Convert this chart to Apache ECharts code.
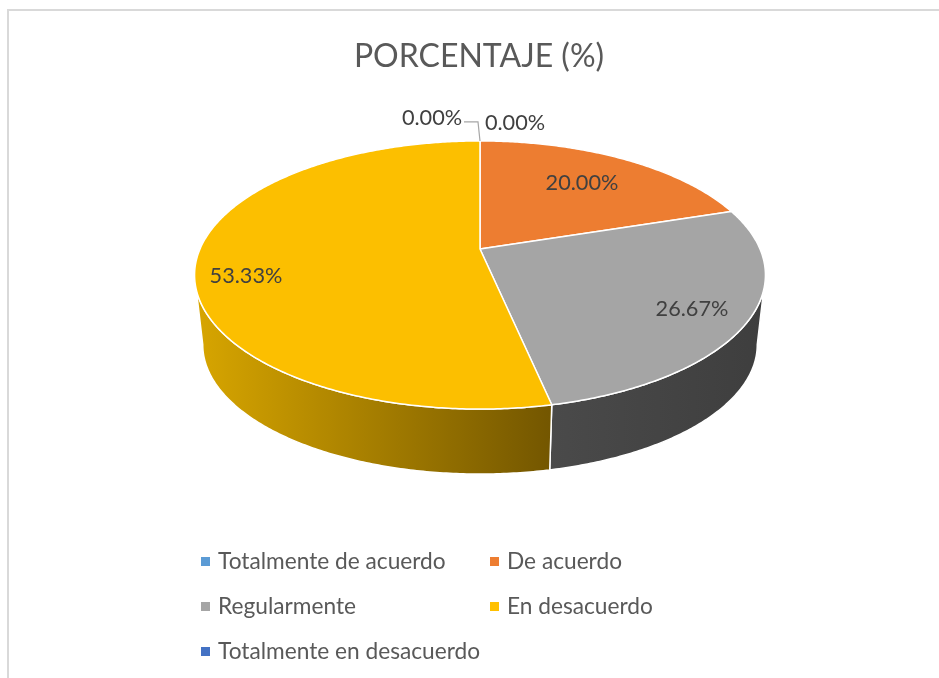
<!DOCTYPE html>
<html><head><meta charset="utf-8">
<style>html,body{margin:0;padding:0;background:#fff}#c{width:939px;height:678px}</style>
<script src="https://cdn.jsdelivr.net/npm/echarts@6/dist/echarts.min.js"></script>
</head><body><div id="c"></div>
<script>
const categories = ['Totalmente de acuerdo','De acuerdo','Regularmente','En desacuerdo','Totalmente en desacuerdo'];
const values = [0, 20.00, 26.67, 53.33, 0];
const colors = ['#5B9BD5','#ED7D31','#A5A5A5','#FFC000','#4472C4'];
const titleText = 'PORCENTAJE (%)';

// layout
const FONT = 'Lato, Carlito, sans-serif';
const top3d = {cx:480, cy:249, a:280, b:129, k:-0.194};
const bot3d = {cx:480, cy:319.6, a:272, b:124.5, k:-0.194};
const wallFill = [
  null,
  ['#a0561f','#8a4a1a'],
  ['#4a4a4a','#3e3e3e'],
  ['#d8a600','#735600'],
  null
];
const topFill = ['#5B9BD5','#ED7D31','#A5A5A5','#FCBF00','#4472C4'];
const labelOffset = [[35,-126],[102,-66],[212,60],[-234,27],[-48,-131]];
const legendPos = [[201,550],[490,550],[201,595],[490,595],[201,640]];

const total = values.reduce((s,v)=>s+v,0);
const starts = [];
values.reduce((s,v,i)=>{starts[i]=s;return s+v;},0);
const toAngle = v => v/total*Math.PI*2;
// silhouette tangent angles of the projected rim: only the front of the wall shows
const frontStart = Math.acos(top3d.k);
const frontEnd = Math.PI*2-frontStart;
function project(p,ang){
  const X=Math.sin(ang),Y=-Math.cos(ang),d=1+p.k*Y;
  return [p.cx+p.a*X/d,p.cy+p.b*Y/d];
}
function arc(p,a0,a1){
  const n=Math.max(2,Math.ceil((a1-a0)/0.01)),pts=[];
  for(let i=0;i<=n;i++)pts.push(project(p,a0+(a1-a0)*i/n));
  return pts;
}
function renderSlice(params,api){
  const i=params.seriesIndex, v=api.value(0), children=[];
  const off=labelOffset[i];
  if(v>0){
    const a0=toAngle(starts[i]),a1=toAngle(starts[i]+v);
    const w0=Math.max(a0,frontStart),w1=Math.min(a1,frontEnd);
    if(w1>w0){
      const wt=arc(top3d,w0,w1),wb=arc(bot3d,w0,w1);
      children.push({type:'polygon',z2:1,shape:{points:wt.concat(wb.slice().reverse())},
        style:{fill:{type:'linear',x:0,y:0,x2:1,y2:0,colorStops:[
          {offset:0,color:wallFill[i][0]},{offset:1,color:wallFill[i][1]}]},
          stroke:'#fff',lineWidth:1.5,lineJoin:'round'}});
    }
    const t=arc(top3d,a0,a1);
    children.push({type:'polygon',z2:2,shape:{points:[[top3d.cx,top3d.cy]].concat(t)},
      style:{fill:topFill[i],stroke:'#fff',lineWidth:1.5,lineJoin:'round'}});
  }
  if(i===categories.length-1){
    const e=project(top3d,0);
    children.push({type:'polyline',z2:3,shape:{points:[[e[0]-16,e[1]-19],[e[0]-2,e[1]-19],[e[0],e[1]]]},
      style:{fill:'none',stroke:'#a6a6a6',lineWidth:1.2}});
  }
  children.push({type:'text',z2:4,style:{
    x:top3d.cx+off[0],y:top3d.cy+off[1],
    text:v.toFixed(2)+'%',fill:'#404040',font:'21.7px '+FONT,align:'center',verticalAlign:'middle'}});
  return {type:'group',children};
}
const chart=echarts.init(document.getElementById('c'),null,{renderer:'canvas'});
chart.setOption({
  animation:false,
  backgroundColor:'#fff',
  title:{text:titleText,left:474,top:36,textAlign:'center',
    textStyle:{color:'#595959',fontFamily:FONT,fontSize:32,fontWeight:'normal'}},
  legend:categories.map((c,i)=>({
    data:[c],left:legendPos[i][0],top:legendPos[i][1],icon:'rect',itemWidth:9,itemHeight:9,padding:0,
    selectedMode:false,
    textStyle:{color:'#595959',fontFamily:FONT,fontSize:22.7,padding:[0,0,0,3]}
  })),
  graphic:[
    {type:'rect',silent:true,shape:{x:7,y:9,width:2,height:669},style:{fill:'#d9d9d9'}},
    {type:'rect',silent:true,shape:{x:7,y:9,width:932,height:2},style:{fill:'#d9d9d9'}}
  ],
  series:categories.map((c,i)=>({
    type:'custom',name:c,coordinateSystem:'none',
    itemStyle:{color:colors[i]},
    data:[[values[i]]],
    renderItem:renderSlice,silent:true
  }))
});
</script></body></html>
